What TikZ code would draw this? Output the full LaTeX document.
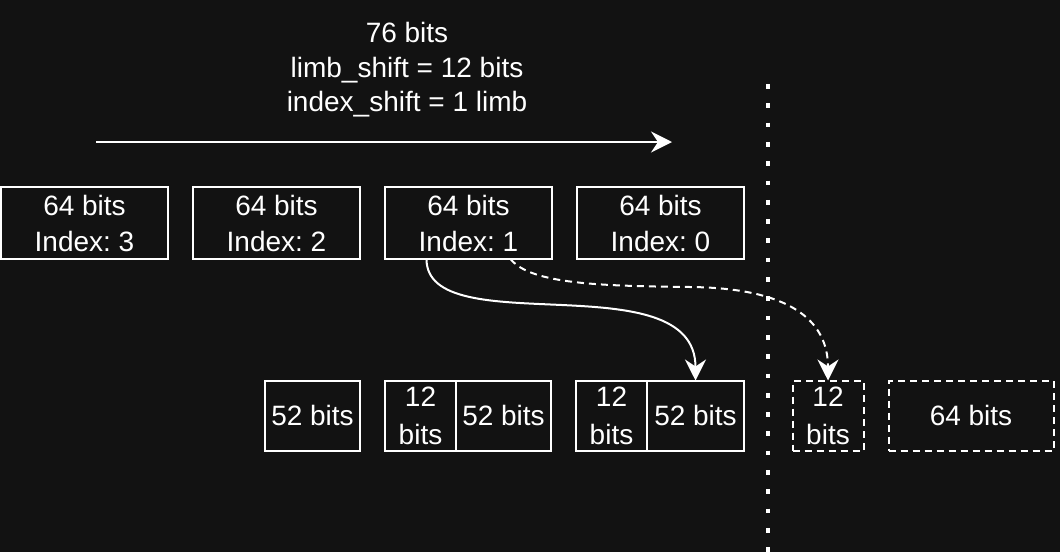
\documentclass[tikz,border=0pt]{standalone}
\usepackage{fontspec}
\setmainfont{Liberation Sans}
\frenchspacing
\definecolor{BgDark}{HTML}{121212}
\definecolor{LineWhite}{HTML}{FFFFFF}
\usetikzlibrary{
  arrows.meta,
  positioning
}

\begin{document}
\begin{tikzpicture}[
  x=1pt, y=-1pt,
  node distance=25pt,
  limbbox/.style={
    rectangle, draw=LineWhite, line width=2pt,
    minimum width=167pt, minimum height=72pt,
    inner sep=0pt, outer sep=0pt,
    text=LineWhite, align=center,
    font=\fontsize{28}{36}\selectfont
  },
  partbox/.style={
    limbbox, minimum width=95pt, minimum height=70pt
  },
  carrybox/.style={
    partbox, minimum width=71pt,
    font=\fontsize{28}{38}\selectfont
  },
  ghost/.style={
    dash pattern=on 7pt off 5pt
  },
  conn/.style={
    -{Stealth[length=21pt, width=21pt, inset=7pt]},
    line width=2pt, LineWhite
  }
]
  \useasboundingbox (0,0) rectangle (1060,552);
  \fill[BgDark] (0,0) rectangle (1060,552);

  % Shift info (top)
  \node[text=LineWhite, align=center, inner sep=0pt,
    font=\fontsize{28}{34.5}\selectfont] (info) at (407,70)
    {76 bits\\limb\_shift = 12 bits\\index\_shift = 1 limb};
  \coordinate (spanL) at (96,142);
  \coordinate (spanR) at (672,142);
  \draw[conn] (spanL) -- (spanR);

  % Limbs (top row)
  \node[limbbox] (limb3) at (84.5,223) {64 bits\\Index: 3};
  \node[limbbox, right=of limb3] (limb2) {64 bits\\Index: 2};
  \node[limbbox, right=of limb2] (limb1) {64 bits\\Index: 1};
  \node[limbbox, right=of limb1] (limb0) {64 bits\\Index: 0};

  % Shifted parts (bottom row)
  \node[carrybox] (carry2) at (420.5,415.5) {12\\bits};
  \node[partbox, left=of carry2] (part3) {52 bits};
  \node[partbox, right=0pt of carry2] (part2) {52 bits};
  \node[carrybox, right=of part2] (carry1) {12\\bits};
  \node[partbox, minimum width=97pt, right=0pt of carry1] (part1) {52 bits};
  \node[carrybox, ghost] (carry0) at (828,415.5) {12\\bits};
  \node[partbox, ghost, minimum width=165pt, right=of carry0] (extra)
    {64 bits};

  % Cut line
  \coordinate (cutTop) at (768,84);
  \coordinate (cutBot) at (768,552);
  \draw[LineWhite, line width=4.7pt, dash pattern=on 4.7pt off 14.6pt]
    (cutTop) -- (cutBot);

  % Connections
  \draw[conn] ([xshift=-42pt]limb1.south)
    .. controls +(0,85) and +(0,-120) .. (part1.north);
  \coordinate (bend) at (690,287);
  \draw[conn, ghost] ([xshift=42pt]limb1.south)
    .. controls +(20,25) and +(-90,-1) .. (bend)
    .. controls +(100,1) and +(0,-60) .. (carry0.north);
\end{tikzpicture}
\end{document}
